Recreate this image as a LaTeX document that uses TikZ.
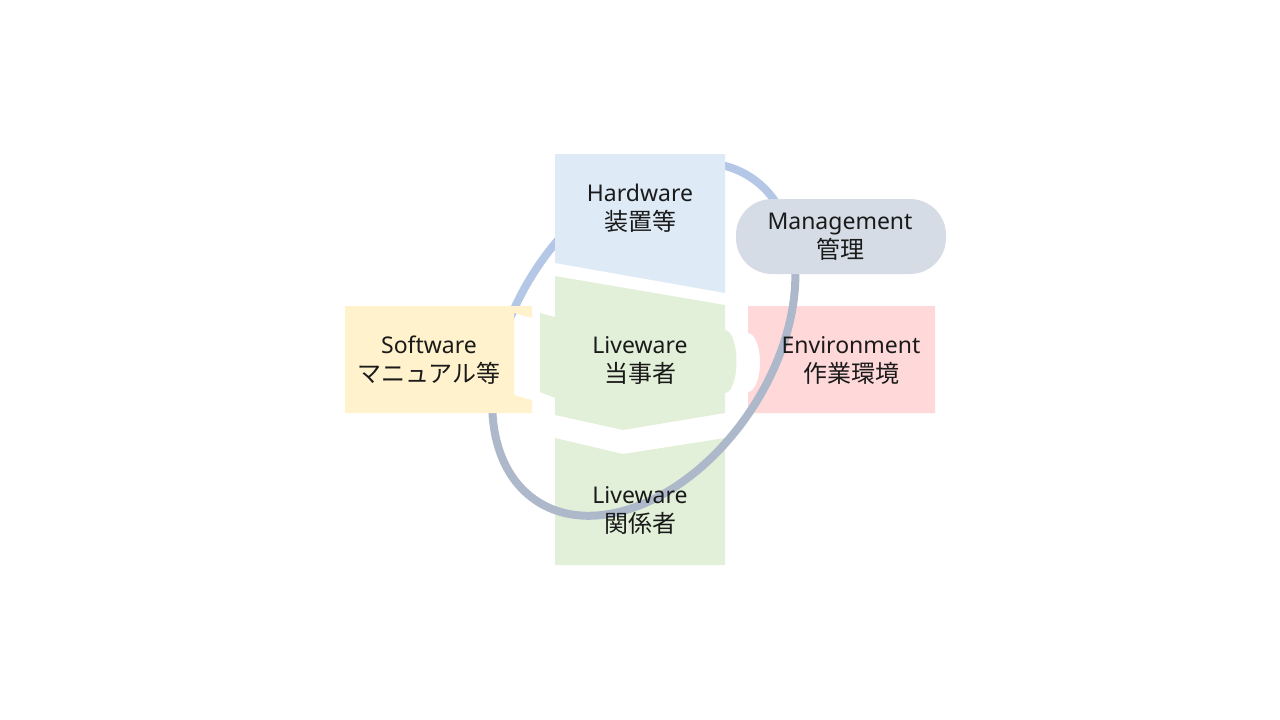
\documentclass[tikz,border=0pt]{standalone}
\usepackage{fontspec}
\setmainfont{Noto Sans}
\newfontfamily\jp{Noto Sans CJK JP}
\definecolor{hwc}{HTML}{DEEBF7}
\definecolor{lvc}{HTML}{E2F0D9}
\definecolor{swc}{HTML}{FFF2CC}
\definecolor{envc}{HTML}{FFD9D9}
\definecolor{mgc}{HTML}{D6DCE5}
\definecolor{ringblue}{HTML}{B4C7E7}
\definecolor{ringgray}{HTML}{ADB9CA}
\definecolor{txt}{HTML}{1A1A1A}
\begin{document}
\begin{tikzpicture}[x=1pt,y=-1pt,
  lbl/.style={align=center, inner sep=0pt, text=txt, font=\fontsize{23}{29}\selectfont},
  ringline/.style={line width=8pt}]
\useasboundingbox (0,0) rectangle (1280,720);
% Environment
\fill[envc] (748,306) -- (935,306) -- (935,413) -- (748,413) -- (748,392)
  .. controls (754.6,392) and (760,378.8) .. (760,362.5)
  .. controls (760,346.2) and (754.6,333) .. (748,333) -- cycle;
% Liveware (relatives)
\fill[lvc] (555,438) -- (623,454) -- (725,438) -- (725,565) -- (555,565) -- cycle;
% Liveware (centre)
\fill[lvc] (555,276) -- (725,305) -- (725,330)
  .. controls (731.35,330) and (736.5,344.1) .. (736.5,361.5)
  .. controls (736.5,378.9) and (731.35,393) .. (725,393)
  -- (725,413) -- (623,430) -- (555,415) -- (555,398) -- (540,392)
  -- (540,313) -- (555,317) -- cycle;
% ring
\begin{scope}
  \clip (0,0) -- (1280,0) -- (1280,46) -- (0,554) -- cycle;
  \draw[ringline, ringblue, rotate around={56.4:(643.8,339.2)}]
    (643.8,339.2) ellipse [x radius=194pt, y radius=128.5pt];
\end{scope}
\begin{scope}
  \clip (0,554) -- (1280,46) -- (1280,720) -- (0,720) -- cycle;
  \draw[ringline, ringgray, rotate around={56.4:(643.8,339.2)}]
    (643.8,339.2) ellipse [x radius=194pt, y radius=128.5pt];
\end{scope}
% Hardware
\fill[hwc] (555,154) -- (725,154) -- (725,293) -- (555,263) -- cycle;
% Software
\fill[swc] (345,306) -- (532,306) -- (532,318) -- (514,313) -- (514,395)
  -- (532,400) -- (532,413) -- (345,413) -- cycle;
% Management
\fill[mgc, rounded corners=36pt] (736,199) rectangle (946,274);
% labels
\node[lbl] (hw) at (640,208.5) {Hardware\\{\jp\fontsize{24}{29}\selectfont 装置等}};
\node[lbl] (mg) at (840,236.5) {Management\\{\jp\fontsize{24}{29}\selectfont 管理}};
\node[lbl] (sw) at (429,360.5) {Software\\{\jp\fontsize{24}{29}\selectfont マニュアル等}};
\node[lbl] (lv) at (640,360.5) {Liveware\\{\jp\fontsize{24}{29}\selectfont 当事者}};
\node[lbl] (env) at (851,360.5) {Environment\\{\jp\fontsize{24}{29}\selectfont 作業環境}};
\node[lbl] (lv2) at (640,510.5) {Liveware\\{\jp\fontsize{24}{29}\selectfont 関係者}};
\end{tikzpicture}
\end{document}
